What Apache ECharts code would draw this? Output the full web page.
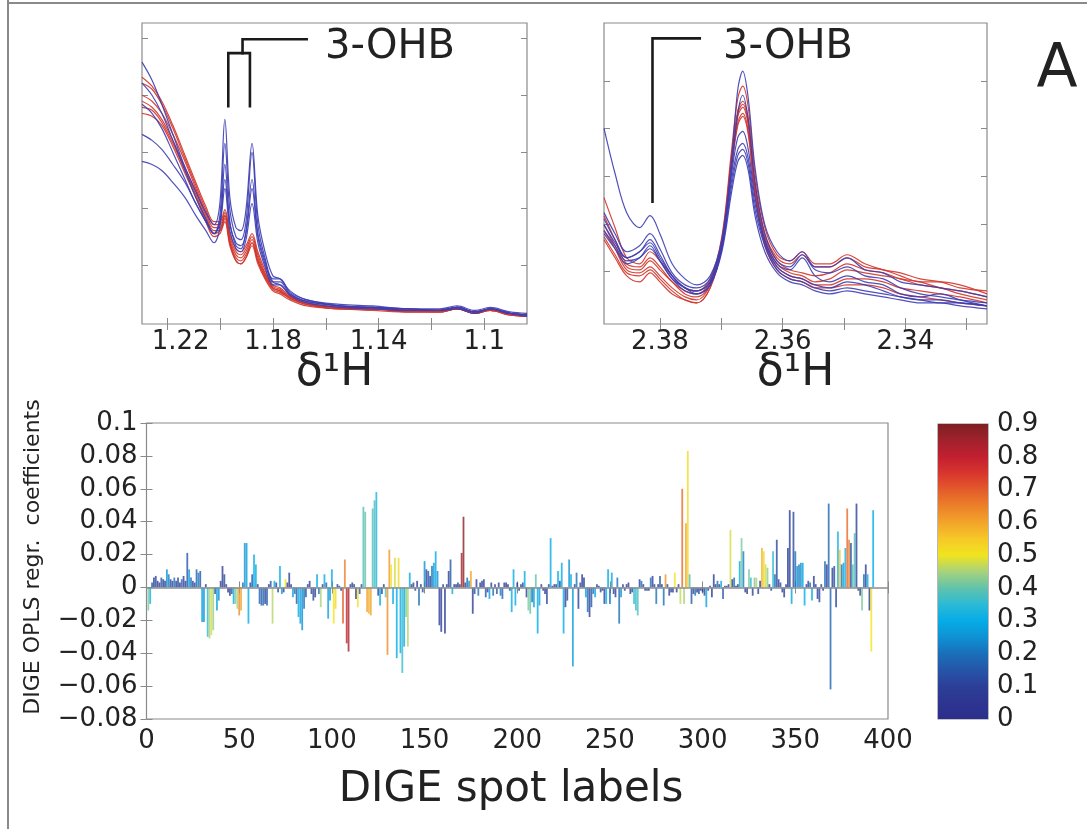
<!DOCTYPE html>
<html><head><meta charset="utf-8">
<script src="https://cdn.jsdelivr.net/npm/echarts@6/dist/echarts.min.js"></script>
<style>html,body{margin:0;padding:0;background:#fff}#c{width:1087px;height:829px}</style>
</head><body><div id="c"></div>
<script>
// ---------- Top-left spectra (δ1H 1.08–1.23) ----------
const ppmLeft = [1.2297,1.2259,1.2222,1.218,1.2134,1.2093,1.2055,1.2024,1.2002,1.1983,1.1964,1.1941,1.1922,1.1903,1.188,1.1858,1.1831,1.1801,1.1774,1.1736,1.1672,1.1547,1.1422,1.1282,1.1168,1.1103,1.1035,1.0978,1.0903,1.0838];
const leftBlue = [
 [87,81,73,63,52,44,37,33,40,68,42,32,31,38,60,36,24,16,15,11,8,6.5,6,5,5,6,4.5,5.5,4,3.5],
 [63,61,58,53,47,40,34,30,36,60,38,29,28,34,57,33,22,15,15,10.5,8,6,5.5,5,4.5,5.5,4,5,3.5,3],
 [54,53,51,47,42,36,31,27,32,53,34,26,25,31,48,30,21,14,14,10,7.5,6,5.5,4.5,4.5,5.5,4,5,3.5,3],
 [73,70,65,57,48,40,34,30,34,48,33,27,26,30,45,29,20,14,13,10,7.5,6,5.5,5,4.5,5.5,4,5,3.5,3],
 [80,76,70,61,51,42,35,30,33,45,31,25,24,28,40,27,19,13,13,9.5,7,5.5,5,4.5,4.5,5,3.5,5,3.5,2.5]
];
const leftRed = [
 [82,79,74,66,56,47,39,34,34,38,30,25,24,26,30,24,18,13,12,9.5,7,5.5,5.5,4.5,4.5,5.5,4,5,3.5,3],
 [80,78,73,65,55,46,38,33,33,37,29,24,23,25,29,23,17,12.5,11.5,9,7,5.5,5,4.5,4.5,5.5,4,5,3.5,3],
 [76,74,70,63,54,45,37,32,32,36,28,23,22,24,28,22,16.5,12,11,9,6.5,5.5,5,4.5,4,5,4,4.5,3.5,2.5],
 [74,72,68,61,52,44,36,31,31,35,27,22,21,23,27,21,16,12,11,8.5,6.5,5,5,4,4,5,3.5,4.5,3,2.5],
 [72,71,67,60,51,43,35,30,31,36,27,21,20,22,27,21,15.5,11.5,10.5,8.5,6.5,5,5,4,4,5,3.5,4.5,3,2.5],
 [70,69,66,59,50,42,34,29,30,34,26,21,20,22,26,20,15,11,10,8,6,5,4.5,4,4,5,3.5,4.5,3,2.5]
];
// ---------- Top-right spectra (δ1H 2.327–2.389) ----------
const ppmRight = [2.3891,2.3873,2.3854,2.3833,2.3816,2.38,2.378,2.3759,2.374,2.3718,2.3699,2.3683,2.3673,2.3665,2.3656,2.3645,2.3629,2.3609,2.3588,2.3568,2.3547,2.3523,2.3495,2.3466,2.3436,2.3408,2.3376,2.3343,2.3311,2.3267];
const rightBlue = [
 [65,50,37,32,36,30,20,15,13,16,28,55,78,84,75,52,33,24,21,24,19,19,22,18,17,14,13,12,11,9],
 [37,30,24,26,30,25,17,13,12,15,27,50,62,64,58,42,28,20,18,22,16,14,16,14,13,10,9,10,8,6],
 [33,27,22,24,28,23,16,12,11,14,25,46,56,58,53,38,26,18,15,14,12,11,12,11,10,9,8,7,7,6],
 [30,25,20,22,26,21,15,12,10,13,24,44,54,56,51,36,24,17,14,13,11,10,11,10,9,8,7,7,6,5],
 [35,28,22,24,27,22,16,12,11,14,26,52,70,76,68,47,30,21,19,23,18,17,19,16,15,12,10,9,8,7],
 [31,26,21,22,25,21,15,11,10,13,25,48,58,60,55,40,27,19,16,15,13,12,14,13,11,9,8,8,7,6]
];
const rightRed = [
 [42,32,22,20,24,21,16,12,11,15,29,58,75,79,72,50,32,23,21,24,20,20,23,20,18,17,15,14,12,11],
 [36,28,20,19,22,19,14,11,10,14,28,56,71,74,68,47,30,22,20,23,19,19,22,19,18,16,14,14,13,10],
 [33,26,19,18,21,18,14,10,9,13,27,55,70,73,67,46,29,21,18,17,16,17,20,18,17,15,14,12,11,9],
 [31,25,18,17,19,16,12,9,8,13,27,54,69,72,66,45,28,20,17,16,14,15,18,17,16,15,13,12,10,8],
 [29,23,17,16,18,15,11,8,7,12,26,53,67,70,64,44,27,19,16,15,13,13,15,15,14,12,11,10,9,7],
 [28,22,16,14,17,14,10,8,7,12,26,52,66,69,63,43,26,18,15,14,12,12,13,13,12,10,9,8,7,6]
];
// ---------- DIGE OPLS coefficients (spot labels 1..392) ----------
const spotCoef = [
 -0.014,-0.010,0.003,0.006,0.007,0.004,0.003,0.006,0.005,0.004,
 0.011,0.008,0.005,0.004,0.006,0.004,0.006,0.003,0.005,0.007,
 0.004,0.021,0.011,0.006,0.004,0.003,0.011,0.009,0.010,-0.021,
 -0.021,0.002,-0.030,-0.031,-0.029,-0.026,-0.004,-0.014,-0.008,0.004,
 0.013,0.008,0.002,-0.003,-0.005,-0.004,-0.010,-0.010,-0.013,-0.017,
 -0.014,0.003,0.027,0.027,-0.022,0.003,0.008,0.020,0.014,0.002,
 -0.010,-0.011,-0.011,-0.010,-0.011,0.002,0.004,-0.022,0.004,0.003,
 -0.003,0.013,-0.004,-0.003,0.005,0.003,0.009,0.002,-0.006,-0.004,
 -0.010,-0.018,-0.022,-0.026,-0.013,-0.006,0.002,0.004,-0.004,-0.008,
 -0.006,0.008,-0.004,-0.012,0.002,0.008,0.003,-0.019,-0.008,0.011,
 -0.022,-0.013,0.002,0.001,-0.002,-0.022,0.017,-0.034,-0.039,0.002,
 0.003,0.002,-0.007,-0.012,-0.004,0.002,0.049,0.046,-0.015,-0.016,
 -0.017,0.048,0.053,0.058,-0.005,-0.011,-0.004,0.002,-0.006,-0.041,
 0.023,0.014,-0.010,0.018,-0.043,0.018,-0.040,-0.052,-0.036,-0.018,
 -0.036,0.009,0.002,0.003,-0.002,0.004,-0.011,0.002,-0.003,0.016,
 0.011,0.010,0.007,0.013,0.015,0.022,0.010,-0.023,-0.027,0.002,
 -0.028,0.002,0.010,0.017,-0.004,0.002,0.002,0.003,0.002,0.021,
 0.043,0.003,0.006,0.004,0.010,-0.016,-0.004,0.005,-0.005,0.003,
 0.004,0.005,-0.006,-0.003,-0.007,0.003,-0.005,0.002,-0.004,0.003,
 -0.005,-0.007,0.003,0.003,0.002,-0.002,-0.015,0.011,-0.011,0.003,
 -0.002,0.002,0.003,0.010,-0.006,-0.014,-0.016,-0.009,-0.012,0.008,
 -0.028,-0.011,0.002,-0.002,-0.004,-0.010,0.002,0.030,0.001,0.002,
 0.002,0.010,0.004,0.015,-0.028,-0.012,-0.008,0.017,0.008,-0.048,
 0.002,0.009,-0.013,0.003,0.008,0.006,-0.006,-0.015,-0.018,-0.012,
 -0.004,-0.006,0.002,0.001,-0.003,-0.002,-0.010,-0.010,0.011,-0.010,
 0.009,-0.004,-0.006,0.006,-0.022,-0.006,0.002,-0.002,0.002,0.003,
 -0.004,-0.003,-0.010,-0.014,-0.017,0.005,0.004,0.002,-0.002,-0.002,
 -0.002,0.006,0.007,0.002,-0.010,0.002,0.007,0.002,-0.011,0.008,
 0.002,-0.005,-0.003,-0.003,0.009,-0.003,0.002,-0.010,0.060,-0.010,
 0.039,0.083,0.008,-0.010,-0.004,-0.005,-0.003,-0.004,-0.002,-0.003,
 -0.005,-0.012,-0.002,0.001,-0.006,0.008,0.002,0.004,0.002,0.004,
 -0.007,0.001,0.001,0.002,0.035,0.005,0.006,0.001,0.002,0.016,
 0.030,0.022,-0.003,-0.004,0.011,0.006,-0.005,0.006,0.006,-0.004,
 0.004,0.024,0.022,0.014,0.012,0.002,-0.002,0.022,0.008,0.029,
 0.005,0.003,-0.003,-0.006,0.002,0.024,0.047,-0.010,0.046,0.022,
 0.013,0.014,0.015,0.015,-0.011,0.002,0.004,0.003,-0.008,0.007,
 0.002,-0.007,-0.009,0.002,-0.002,0.016,0.014,0.051,-0.062,0.012,
 0.013,-0.012,0.034,0.023,0.014,0.015,0.024,0.048,0.029,0.027,
 0.014,0.033,0.051,-0.002,-0.005,-0.014,0.008,0.014,0.008,-0.014,-0.039,0.047
];
const spotCorr = [
 0.42,0.32,0.15,0.1,0.12,0.08,0.1,0.15,0.1,0.1,
 0.25,0.22,0.12,0.1,0.2,0.1,0.12,0.08,0.18,0.1,
 0.08,0.15,0.27,0.2,0.12,0.1,0.18,0.22,0.15,0.28,
 0.25,0.1,0.35,0.45,0.48,0.44,0.15,0.28,0.25,0.1,
 0.08,0.12,0.1,0.1,0.08,0.15,0.3,0.42,0.45,0.63,
 0.6,0.2,0.25,0.27,0.3,0.12,0.15,0.3,0.3,0.1,
 0.18,0.15,0.18,0.12,0.15,0.1,0.15,0.46,0.3,0.1,
 0.12,0.3,0.25,0.12,0.5,0.1,0.1,0.1,0.28,0.2,
 0.15,0.3,0.28,0.25,0.2,0.15,0.1,0.1,0.1,0.12,
 0.1,0.3,0.2,0.45,0.1,0.3,0.15,0.28,0.25,0.3,
 0.5,0.52,0.1,0.12,0.1,0.7,0.65,0.8,0.84,0.1,
 0.1,0.12,0.1,0.5,0.15,0.1,0.38,0.4,0.6,0.58,
 0.6,0.38,0.37,0.33,0.1,0.3,0.12,0.1,0.4,0.63,
 0.62,0.5,0.3,0.48,0.3,0.52,0.3,0.36,0.3,0.42,
 0.46,0.3,0.1,0.12,0.1,0.1,0.2,0.1,0.12,0.25,
 0.1,0.15,0.12,0.2,0.27,0.3,0.25,0.1,0.1,0.1,
 0.08,0.1,0.1,0.15,0.3,0.1,0.1,0.1,0.12,0.85,
 0.88,0.1,0.2,0.25,0.6,0.1,0.12,0.1,0.2,0.1,
 0.1,0.12,0.15,0.1,0.28,0.1,0.2,0.1,0.15,0.1,
 0.2,0.18,0.1,0.08,0.1,0.1,0.3,0.3,0.3,0.1,
 0.1,0.12,0.1,0.3,0.1,0.42,0.4,0.2,0.28,0.4,
 0.3,0.28,0.1,0.1,0.1,0.12,0.1,0.3,0.1,0.12,
 0.1,0.3,0.1,0.3,0.3,0.1,0.12,0.25,0.3,0.27,
 0.1,0.2,0.1,0.12,0.1,0.08,0.28,0.2,0.1,0.15,
 0.2,0.3,0.1,0.1,0.12,0.1,0.1,0.3,0.3,0.2,
 0.3,0.1,0.1,0.2,0.2,0.25,0.1,0.1,0.1,0.1,
 0.1,0.12,0.35,0.36,0.38,0.1,0.2,0.1,0.1,0.12,
 0.1,0.2,0.1,0.1,0.2,0.1,0.15,0.1,0.2,0.62,
 0.1,0.1,0.12,0.1,0.5,0.1,0.1,0.47,0.68,0.45,
 0.6,0.52,0.38,0.15,0.1,0.2,0.1,0.12,0.1,0.1,
 0.1,0.28,0.1,0.1,0.1,0.1,0.1,0.2,0.1,0.3,
 0.15,0.1,0.1,0.1,0.48,0.1,0.2,0.1,0.1,0.3,
 0.42,0.22,0.1,0.1,0.42,0.35,0.1,0.42,0.45,0.1,
 0.1,0.58,0.52,0.48,0.43,0.1,0.1,0.35,0.2,0.12,
 0.1,0.12,0.1,0.1,0.1,0.08,0.1,0.28,0.12,0.2,
 0.25,0.22,0.25,0.28,0.3,0.1,0.1,0.2,0.3,0.1,
 0.1,0.1,0.12,0.1,0.1,0.2,0.1,0.18,0.18,0.1,
 0.12,0.12,0.32,0.55,0.2,0.28,0.32,0.68,0.65,0.13,
 0.38,0.38,0.1,0.1,0.1,0.42,0.2,0.1,0.3,0.08,0.5,0.3
];
// ---------- ticks / labels ----------
const xTicksLeft = [1.1,1.12,1.14,1.16,1.18,1.2,1.22];
const xLabelsLeft = [1.1,1.14,1.18,1.22];
const yTicksLeft = [19.6,38.5,57.1,76.1,95];
const xTicksRight = [2.33,2.34,2.35,2.36,2.37,2.38];
const xLabelsRight = [2.34,2.36,2.38];
const yTicksRight = [17.4,33.2,49,65,80.5];
// annotation bracket paths (data coordinates)
const bracketLeftA = [[1.1970,72.4],[1.1970,90],[1.1888,90],[1.1888,72.4]];
const bracketLeftB = [[1.1916,90],[1.1916,94.6],[1.1673,94.6]];
const bracketRight = [[2.3812,40.6],[2.3812,94.9],[2.3735,94.9]];
const corrLevels = [0,0.05,0.1,0.15,0.2,0.25,0.3,0.35,0.4,0.45,0.5,0.55,0.6,0.65,0.7,0.75,0.8,0.85,0.9];
const jet = ['#2b2f8c','#2d3590','#2c3f98','#2456a8','#1a6fba','#0e92d4','#05ace6','#2cbad6','#62c3aa','#a8d27c','#f1e41e','#f6c828','#f2a42a','#ec8029','#e35b2b','#d8352e','#c21f30','#a0222b','#7e1f24'];

const FONT = 'DejaVu Sans';
const TXT = '#222';
const AX = '#8a8a8a';
const BLUE = '#3d3db3', RED = '#d2352a';

const chart = echarts.init(document.getElementById('c'), null, {renderer:'canvas'});

function zip(xs, ys){ return xs.map((x,i)=>[x, ys[i]]); }

const grids = [
  {left:142, top:23, width:385, height:301},
  {left:604, top:23, width:383, height:301},
  {left:146.5, top:423, width:741.5, height:296},
  {left:938, top:424, width:50, height:295}
].map(g => Object.assign({show:true, borderColor:AX, borderWidth:1.2, backgroundColor:'transparent', containLabel:false}, g));

function tick(vals){ return {show:true, inside:true, length:6, lineStyle:{color:AX, width:1}, customValues: vals}; }

const xAxes = [
  {gridIndex:0, type:'value', position:'bottom', min:1.0838, max:1.2297, inverse:true,
   axisLine:{show:false}, splitLine:{show:false}, axisTick:tick(xTicksLeft),
   axisLabel:{customValues:xLabelsLeft, fontFamily:FONT, fontSize:26, color:TXT, margin:5,
     formatter:v=> v === 1.22 ? '{p|1.22}' : String(v),
     rich:{p:{fontFamily:FONT, fontSize:26, color:TXT, padding:[0,0,0,26]}}}},
  {gridIndex:0, type:'value', position:'top', min:1.0838, max:1.2297, inverse:true,
   axisLine:{show:false}, splitLine:{show:false}, axisTick:tick(xTicksLeft), axisLabel:{show:false}},
  {gridIndex:1, type:'value', position:'bottom', min:2.3267, max:2.3891, inverse:true,
   axisLine:{show:false}, splitLine:{show:false}, axisTick:tick(xTicksRight),
   axisLabel:{customValues:xLabelsRight, fontFamily:FONT, fontSize:26, color:TXT, margin:5, formatter:v=>String(v)}},
  {gridIndex:1, type:'value', position:'top', min:2.3267, max:2.3891, inverse:true,
   axisLine:{show:false}, splitLine:{show:false}, axisTick:tick(xTicksRight), axisLabel:{show:false}},
  {gridIndex:2, type:'value', position:'bottom', min:0, max:400, interval:50,
   axisLine:{show:false}, splitLine:{show:false}, axisTick:{inside:true, length:6, lineStyle:{color:AX}},
   axisLabel:{fontFamily:FONT, fontSize:26, color:TXT, margin:9}},
  {gridIndex:2, type:'value', position:'top', min:0, max:400, interval:50,
   axisLine:{show:false}, splitLine:{show:false}, axisTick:{inside:true, length:6, lineStyle:{color:AX}}, axisLabel:{show:false}},
  {gridIndex:3, type:'category', data:['c'], show:false}
];
const fmtCoef = v => { const r = +v.toFixed(2); return r < 0 ? '\u2212' + String(Math.abs(r)) : String(r); };
const yAxes = [
  {gridIndex:0, type:'value', min:0, max:100, axisLine:{show:false}, splitLine:{show:false}, axisTick:tick(yTicksLeft), axisLabel:{show:false}},
  {gridIndex:0, type:'value', position:'right', min:0, max:100, axisLine:{show:false}, splitLine:{show:false}, axisTick:tick(yTicksLeft), axisLabel:{show:false}},
  {gridIndex:1, type:'value', min:0, max:100, axisLine:{show:false}, splitLine:{show:false}, axisTick:tick(yTicksRight), axisLabel:{show:false}},
  {gridIndex:1, type:'value', position:'right', min:0, max:100, axisLine:{show:false}, splitLine:{show:false}, axisTick:tick(yTicksRight), axisLabel:{show:false}},
  {gridIndex:2, type:'value', min:-0.08, max:0.1, interval:0.02, axisLine:{show:false}, splitLine:{show:false},
   axisTick:{inside:true, length:6, lineStyle:{color:AX}},
   axisLabel:{fontFamily:FONT, fontSize:26, color:TXT, margin:9, formatter:fmtCoef}},
  {gridIndex:2, type:'value', position:'right', min:-0.08, max:0.1, interval:0.02, axisLine:{show:false}, splitLine:{show:false},
   axisTick:{inside:true, length:6, lineStyle:{color:AX}}, axisLabel:{show:false}},
  {gridIndex:3, type:'value', min:0, max:0.9, interval:0.1, axisLine:{show:false}, splitLine:{show:false},
   axisTick:{inside:true, length:5, lineStyle:{color:'#555'}}, axisLabel:{show:false}},
  {gridIndex:3, type:'value', position:'right', min:0, max:0.9, interval:0.1, axisLine:{show:false}, splitLine:{show:false},
   axisTick:{inside:true, length:5, lineStyle:{color:'#555'}},
   axisLabel:{fontFamily:FONT, fontSize:26, color:TXT, margin:9, formatter:v=>String(+v.toFixed(1))}}
];

const series = [];
function spec(xs, ys, color, xi, yi){
  series.push({type:'line', xAxisIndex:xi, yAxisIndex:yi, data:zip(xs, ys), showSymbol:false, symbol:'none',
    smooth:0.35, lineStyle:{color:color, width:1.2, opacity:0.9}, silent:true, animation:false, z:2});
}
leftRed.forEach(a => spec(ppmLeft, a, RED, 0, 0));
leftBlue.forEach(a => spec(ppmLeft, a, BLUE, 0, 0));
rightRed.forEach(a => spec(ppmRight, a, RED, 2, 2));
rightBlue.forEach(a => spec(ppmRight, a, BLUE, 2, 2));
function bracket(pts, xi, yi){
  series.push({type:'line', xAxisIndex:xi, yAxisIndex:yi, data:pts, showSymbol:false, symbol:'none',
    lineStyle:{color:'#1a1a1a', width:2.6, join:'miter', cap:'square'}, silent:true, animation:false, z:5});
}
bracket(bracketLeftA, 0, 0);
bracket(bracketLeftB, 0, 0);
bracket(bracketRight, 2, 2);

const barIndex = series.length;
series.push({type:'bar', xAxisIndex:4, yAxisIndex:4, barWidth:1.8,
  data: spotCoef.map((v,i)=>[i+1, v, spotCorr[i]]),
  encode:{x:0, y:1}, itemStyle:{opacity:0.8}, silent:true, animation:false, z:3,
  markLine:{symbol:['none','none'], silent:true, animation:false, label:{show:false},
    lineStyle:{color:'#8c8c8c', width:1.5, type:'solid'}, data:[{yAxis:0}]}});

series.push({type:'bar', xAxisIndex:6, yAxisIndex:6, barWidth:'100%', data:[0.9], silent:true, animation:false,
  itemStyle:{color:{type:'linear', x:0, y:0, x2:0, y2:1,
    colorStops: corrLevels.map((l,i)=>({offset:(0.9-l)/0.9, color:jet[i]})).reverse()}}});

chart.setOption({
  backgroundColor:'#fff',
  animation:false,
  grid:grids, xAxis:xAxes, yAxis:yAxes, series:series,
  visualMap:[{type:'continuous', show:false, min:0, max:0.9, dimension:2, seriesIndex:barIndex,
    inRange:{color:jet}}],
  graphic:[
    {type:'rect', shape:{x:7, y:0, width:2, height:829}, style:{fill:'#8a8a8a'}, silent:true},
    {type:'rect', shape:{x:7, y:2, width:1080, height:2}, style:{fill:'#8a8a8a'}, silent:true},
    {type:'text', x:325, y:48, style:{text:'3-OHB', font:'40px "DejaVu Sans"', fill:TXT, align:'left', verticalAlign:'middle'}, silent:true},
    {type:'text', x:723, y:48, style:{text:'3-OHB', font:'40px "DejaVu Sans"', fill:TXT, align:'left', verticalAlign:'middle'}, silent:true},
    {type:'text', x:1057, y:70, style:{text:'A', font:'60px "DejaVu Sans"', fill:TXT, align:'center', verticalAlign:'middle'}, silent:true},
    {type:'text', x:334.5, y:374, style:{text:'δ¹H', font:'44px "DejaVu Sans"', fill:TXT, align:'center', verticalAlign:'middle'}, silent:true},
    {type:'text', x:795.5, y:374, style:{text:'δ¹H', font:'44px "DejaVu Sans"', fill:TXT, align:'center', verticalAlign:'middle'}, silent:true},
    {type:'text', x:33, y:557, rotation:Math.PI/2, style:{text:'DIGE OPLS regr.  coefficients', font:'22px "DejaVu Sans"', fill:TXT, align:'center', verticalAlign:'middle'}, silent:true},
    {type:'text', x:511, y:790, style:{text:'DIGE spot labels', font:'42px "DejaVu Sans"', fill:TXT, align:'center', verticalAlign:'middle'}, silent:true}
  ]
});
</script></body></html>
